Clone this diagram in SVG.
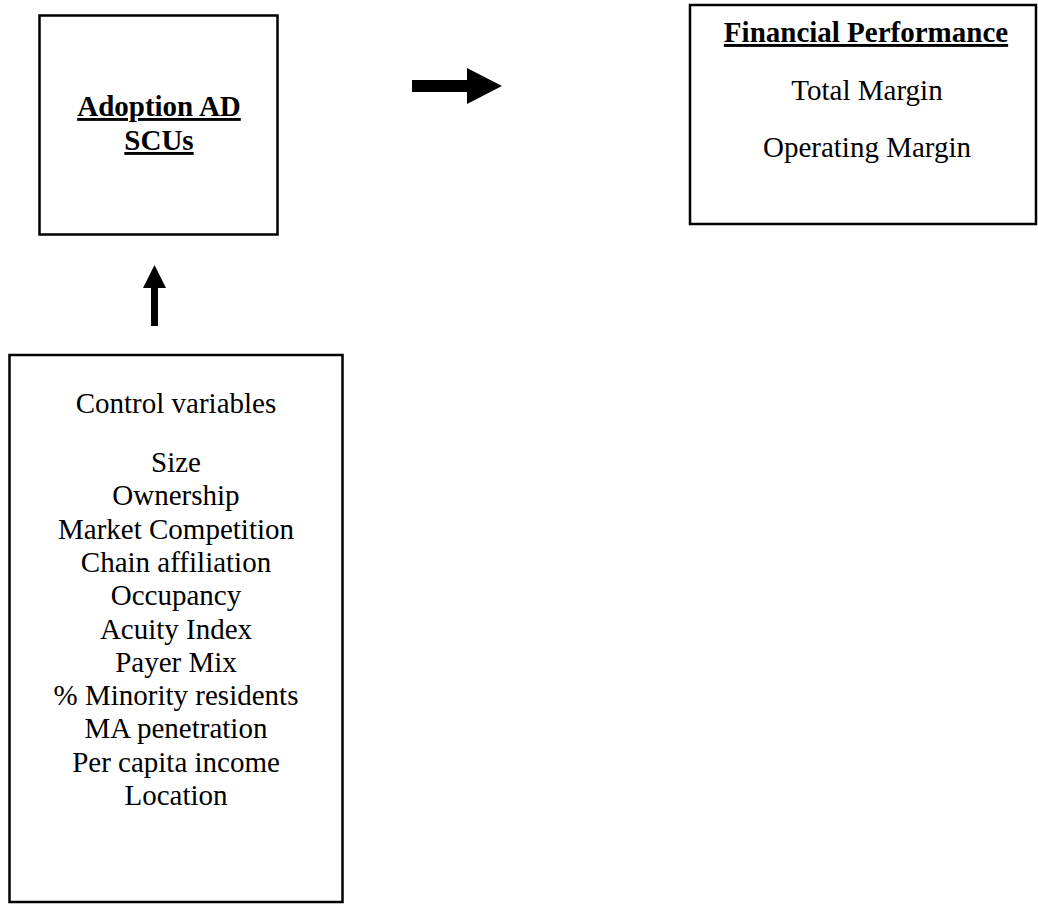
<svg xmlns="http://www.w3.org/2000/svg" width="1038" height="905" viewBox="0 0 1038 905">
<style>
.box{fill:#fff;stroke:#000;stroke-width:2.5}
.t{font-family:"Liberation Serif","Times New Roman",serif;font-size:29px;fill:#000;text-anchor:middle}
.b{font-weight:bold;text-decoration:underline}
.arr{fill:#000;stroke:none}
</style>
<rect width="1038" height="905" fill="#fff"/>
<g id="adoption">
<rect class="box" x="39.5" y="15.5" width="238" height="219"/>
<text class="t b" x="159" y="116">Adoption AD</text>
<text class="t b" x="159" y="150">SCUs</text>
</g>
<g id="financial">
<rect class="box" x="690" y="5" width="346" height="219"/>
<text class="t b" x="866" y="42">Financial Performance</text>
<text class="t" x="867" y="100">Total Margin</text>
<text class="t" x="867" y="157">Operating Margin</text>
</g>
<g id="control">
<rect class="box" x="9.5" y="355" width="333" height="547"/>
<text class="t" x="176" y="413">Control variables</text>
<text class="t" x="176" y="472">Size</text>
<text class="t" x="176" y="505.3">Ownership</text>
<text class="t" x="176" y="538.6">Market Competition</text>
<text class="t" x="176" y="571.9">Chain affiliation</text>
<text class="t" x="176" y="605.2">Occupancy</text>
<text class="t" x="176" y="638.5">Acuity Index</text>
<text class="t" x="176" y="671.8">Payer Mix</text>
<text class="t" x="176" y="705.1">% Minority residents</text>
<text class="t" x="176" y="738.4">MA penetration</text>
<text class="t" x="176" y="771.7">Per capita income</text>
<text class="t" x="176" y="805">Location</text>
</g>
<g id="connectors">
<polygon class="arr" points="412,80 467,80 467,68 502,86 467,104 467,92 412,92"/>
<polygon class="arr" points="151,326 151,288 143,288 154.5,265 166,288 158,288 158,326"/>
</g>
</svg>
